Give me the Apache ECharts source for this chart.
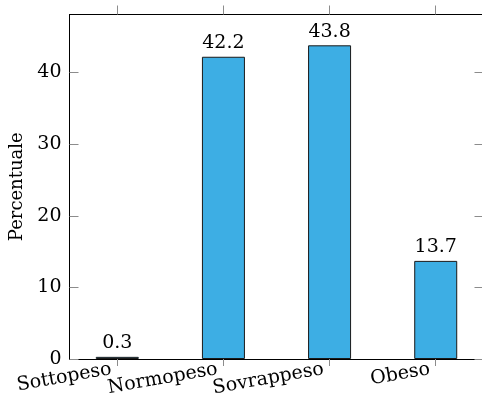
<!DOCTYPE html>
<html>
<head>
<meta charset="utf-8">
<script src="https://cdn.jsdelivr.net/npm/echarts@6/dist/echarts.min.js"></script>
<style>
  html, body { margin: 0; padding: 0; background: #fff; }
  #chart { width: 482px; height: 394px; }
</style>
</head>
<body>
<div id="chart"></div>
<script>
// dati
const categories = ["Sottopeso", "Normopeso", "Sovrappeso", "Obeso"];
const percentuali = [0.3, 42.2, 43.8, 13.7];
const yTicks = [0, 10, 20, 30, 40];

const font = "DejaVu Serif";
const tickColor = "#8c8c8c";
const catPos = categories.map((c, i) => i);
// etichette divise su due assi, altrimenti echarts nasconde quelle sovrapposte
const catPari = catPos.filter(i => i % 2 === 0);
const catDispari = catPos.filter(i => i % 2 === 1);

function labelAsse(valori) {
    return {
        customValues: valori,
        rotate: 10,
        margin: 9,
        padding: [0, 6, 0, 0],
        showMinLabel: true,
        showMaxLabel: true,
        fontFamily: font,
        fontSize: 19,
        color: "#000",
        formatter: v => categories[Math.round(v)]
    };
}

let myChart = echarts.init(document.getElementById("chart"));
myChart.setOption({
    animation: false,
    grid: { left: 69.5, top: 14.5, width: 414, height: 344.5, outerBoundsMode: "none", containLabel: false },
    xAxis: [
        {
            type: "value",
            min: -0.45,
            max: 3.45,
            axisLine: { show: true, onZero: false, lineStyle: { color: "#000", width: 1 } },
            axisTick: { show: true, inside: false, length: 7, customValues: catPos, lineStyle: { color: tickColor } },
            axisLabel: labelAsse(catPari),
            splitLine: { show: false }
        },
        {
            type: "value",
            position: "bottom",
            min: -0.45,
            max: 3.45,
            axisLine: { show: false, onZero: false },
            axisTick: { show: false },
            axisLabel: labelAsse(catDispari),
            splitLine: { show: false }
        },
        {
            type: "value",
            position: "top",
            min: -0.45,
            max: 3.45,
            axisLine: { show: true, onZero: false, lineStyle: { color: "#000", width: 1 } },
            axisTick: { show: true, inside: false, length: 9, customValues: catPos, lineStyle: { color: tickColor } },
            axisLabel: { show: false },
            splitLine: { show: false }
        }
    ],
    yAxis: [
        {
            type: "value",
            min: 0,
            max: 48.1,
            interval: 10,
            name: "Percentuale",
            nameLocation: "middle",
            nameGap: 41,
            nameTextStyle: { fontFamily: font, fontSize: 18, color: "#000" },
            axisLine: { show: true, onZero: false, lineStyle: { color: "#000", width: 1 } },
            axisTick: { show: true, inside: true, length: 9, customValues: yTicks, lineStyle: { color: tickColor } },
            axisLabel: { customValues: yTicks, fontFamily: font, fontSize: 19, color: "#000", margin: 8 },
            splitLine: { show: false }
        },
        {
            type: "value",
            position: "right",
            min: 0,
            max: 48.1,
            interval: 10,
            axisLine: { show: false, onZero: false },
            axisTick: { show: true, inside: true, length: 9, customValues: yTicks, lineStyle: { color: tickColor } },
            axisLabel: { show: false },
            splitLine: { show: false }
        }
    ],
    series: [
        {
            type: "bar",
            xAxisIndex: 0,
            yAxisIndex: 0,
            barWidth: 43,
            data: percentuali.map((v, i) => [i, v]),
            itemStyle: { color: "#3daee4", borderColor: "#1a1a1a", borderWidth: 1 },
            label: {
                show: true,
                position: "top",
                distance: 4,
                fontFamily: font,
                fontSize: 19,
                color: "#000",
                formatter: p => p.value[1]
            }
        }
    ]
});
</script>
</body>
</html>
